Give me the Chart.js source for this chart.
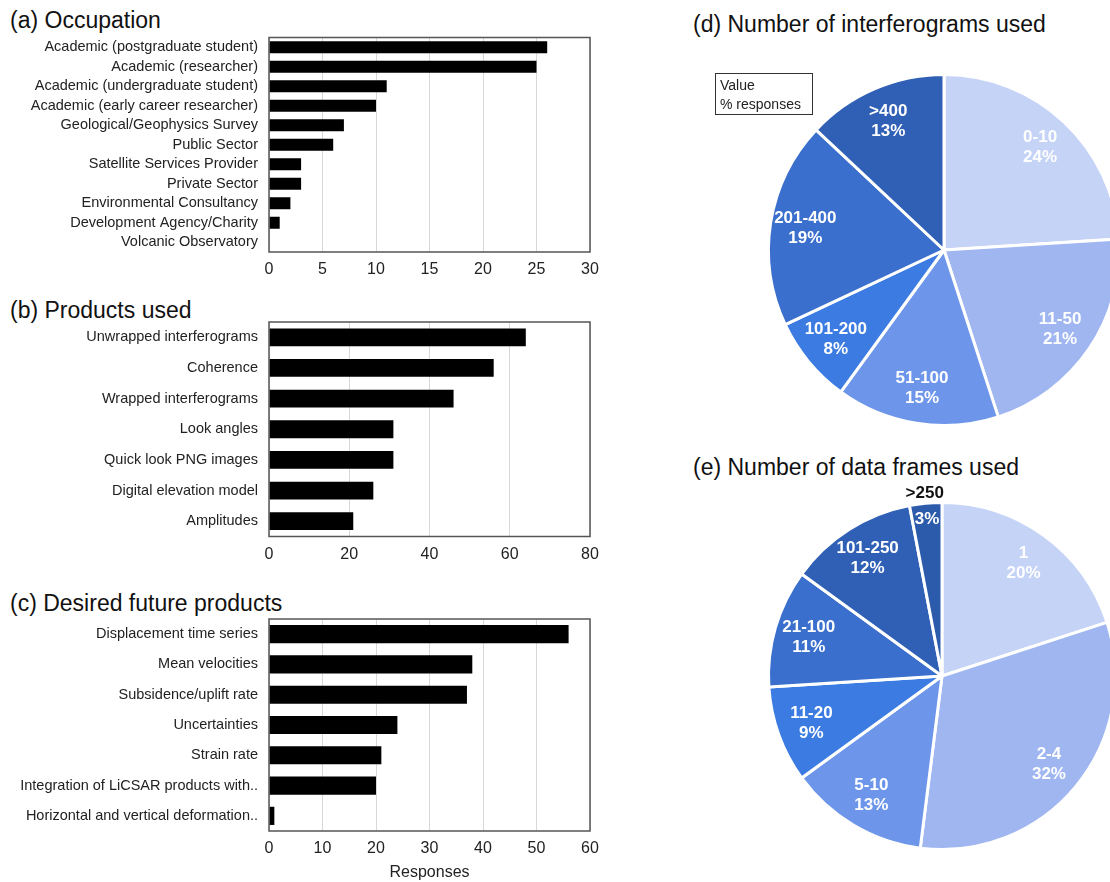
<!DOCTYPE html>
<html>
<head>
<meta charset="utf-8">
<script src="https://cdn.jsdelivr.net/npm/chart.js@4.4.1/dist/chart.umd.min.js"></script>
<style>
  body { margin: 0; width: 1110px; height: 882px; overflow: hidden; background: #fff; position: relative;
         font-family: "Liberation Sans", Arial, sans-serif; }
  .title { position: absolute; font-size: 23px; line-height: 23px; color: #111; white-space: nowrap; }
  canvas { position: absolute; }
  .key { position: absolute; left: 715px; top: 73px; width: 98px; height: 42px; border: 1px solid #333;
         font-size: 14px; line-height: 19px; color: #222; padding-left: 4px; box-sizing: border-box; padding-top: 2px; }
</style>
</head>
<body>
<div class="title" style="left:10px;top:9px">(a) Occupation</div>
<div class="title" style="left:10px;top:299px">(b) Products used</div>
<div class="title" style="left:10px;top:592px">(c) Desired future products</div>
<div class="title" style="left:693px;top:13px">(d) Number of interferograms used</div>
<div class="title" style="left:693px;top:456px">(e) Number of data frames used</div>

<canvas id="occ" width="620" height="255" style="left:0;top:30px"></canvas>
<canvas id="prod" width="620" height="255" style="left:0;top:315px"></canvas>
<canvas id="future" width="620" height="270" style="left:0;top:612px"></canvas>
<canvas id="ifg" width="370" height="370" style="left:759px;top:65px"></canvas>
<canvas id="frames" width="400" height="400" style="left:742px;top:476px"></canvas>
<div class="key">Value<br>% responses</div>

<script>
// (a) occupation
const occupationLabels = ["Academic (postgraduate student)", "Academic (researcher)", "Academic (undergraduate student)",
  "Academic (early career researcher)", "Geological/Geophysics Survey", "Public Sector", "Satellite Services Provider",
  "Private Sector", "Environmental Consultancy", "Development Agency/Charity", "Volcanic Observatory"];
const occupationValues = [26, 25, 11, 10, 7, 6, 3, 3, 2, 1, 0];

// (b) products used
const productLabels = ["Unwrapped interferograms", "Coherence", "Wrapped interferograms", "Look angles",
  "Quick look PNG images", "Digital elevation model", "Amplitudes"];
const productValues = [64, 56, 46, 31, 31, 26, 21];

// (c) desired future products
const futureLabels = ["Displacement time series", "Mean velocities", "Subsidence/uplift rate", "Uncertainties",
  "Strain rate", "Integration of LiCSAR products with..", "Horizontal and vertical deformation.."];
const futureValues = [56, 38, 37, 24, 21, 20, 1];

// (d) interferograms, % responses
const ifgLabels = ["0-10", "11-50", "51-100", "101-200", "201-400", ">400"];
const ifgPercent = [24, 21, 15, 8, 19, 13];

// (e) data frames, % responses
const frameLabels = ["1", "2-4", "5-10", "11-20", "21-100", "101-250", ">250"];
const framePercent = [20, 32, 13, 9, 11, 12, 3];

const blues = ["#c5d3f7", "#9fb6f1", "#6d96eb", "#3c7ce2", "#3a6fcd", "#2f60b5", "#2d5bab"];

// box round the plot area
const frame = {
  id: 'frame',
  afterDraw(chart) {
    const a = chart.chartArea, ctx = chart.ctx;
    ctx.save();
    ctx.strokeStyle = '#555';
    ctx.lineWidth = 1.5;
    ctx.strokeRect(a.left, a.top, a.right - a.left, a.bottom - a.top);
    ctx.restore();
  }
};

function makeBar(id, labels, values, max, step, opts) {
  new Chart(document.getElementById(id), {
    type: 'bar',
    data: {
      labels: labels,
      datasets: [{ data: values, backgroundColor: '#000', barPercentage: opts.barPct, categoryPercentage: 1 }]
    },
    options: {
      indexAxis: 'y',
      responsive: false,
      animation: false,
      layout: { padding: { top: opts.top, right: 30, left: 0, bottom: 0 } },
      plugins: { legend: { display: false }, tooltip: { enabled: false } },
      scales: {
        x: {
          min: 0, max: max,
          ticks: { stepSize: step, font: { size: 16, family: 'Liberation Sans' }, color: '#222', padding: 8, maxRotation: 0 },
          grid: { color: '#d8d8d8', drawTicks: false },
          border: { display: false },
          title: opts.xTitle ? { display: true, text: opts.xTitle, font: { size: 16, family: 'Liberation Sans' }, color: '#222', padding: 0 } : { display: false },
          afterFit: s => { s.height = opts.xh; s.paddingLeft = 0; s.paddingRight = 0; }
        },
        y: {
          ticks: { autoSkip: false, font: { size: 14.5, family: 'Liberation Sans' }, color: '#222', padding: 11 },
          grid: { display: false, drawTicks: false },
          border: { display: false },
          afterFit: s => { s.width = 269; s.paddingTop = 0; s.paddingBottom = 0; }
        }
      }
    },
    plugins: [frame]
  });
}

makeBar('occ', occupationLabels, occupationValues, 30, 5, { barPct: 0.62, top: 7.5, xh: 33 });
makeBar('prod', productLabels, productValues, 80, 20, { barPct: 0.58, top: 7, xh: 33.5 });
makeBar('future', futureLabels, futureValues, 60, 10, { barPct: 0.6, top: 7, xh: 51, xTitle: 'Responses' });

// labels inside the slices
const sliceLabels = {
  id: 'sliceLabels',
  afterDatasetsDraw(chart) {
    const ctx = chart.ctx;
    const meta = chart.getDatasetMeta(0);
    const names = chart.data.labels;
    const vals = chart.data.datasets[0].data;
    ctx.save();
    ctx.textAlign = 'center';
    ctx.textBaseline = 'middle';
    ctx.font = 'bold 17px "Liberation Sans", Arial, sans-serif';
    meta.data.forEach((arc, i) => {
      const p = arc.getProps(['x', 'y', 'startAngle', 'endAngle', 'outerRadius'], true);
      const mid = (p.startAngle + p.endAngle) / 2;
      if (vals[i] < 5) {
        // too thin: name outside, value near the rim
        const ro = p.outerRadius + 10, ri = p.outerRadius * 0.91;
        ctx.fillStyle = '#111';
        ctx.fillText(names[i], p.x + Math.cos(mid) * ro, p.y + Math.sin(mid) * ro);
        ctx.fillStyle = '#fff';
        ctx.fillText(vals[i] + '%', p.x + Math.cos(mid) * ri, p.y + Math.sin(mid) * ri);
      } else {
        const r = p.outerRadius * 0.8;
        const cx = p.x + Math.cos(mid) * r, cy = p.y + Math.sin(mid) * r;
        ctx.fillStyle = '#fff';
        ctx.fillText(names[i], cx, cy - 10);
        ctx.fillText(vals[i] + '%', cx, cy + 10);
      }
    });
    ctx.restore();
  }
};

function makePie(id, labels, values, pad) {
  new Chart(document.getElementById(id), {
    type: 'pie',
    data: {
      labels: labels,
      datasets: [{ data: values, backgroundColor: blues.slice(0, values.length), borderColor: '#fff', borderWidth: 3 }]
    },
    options: {
      responsive: false,
      animation: false,
      layout: { padding: pad },
      plugins: { legend: { display: false }, tooltip: { enabled: false } }
    },
    plugins: [sliceLabels]
  });
}

makePie('ifg', ifgLabels, ifgPercent, 8);
makePie('frames', frameLabels, framePercent, 25);
</script>
</body>
</html>
